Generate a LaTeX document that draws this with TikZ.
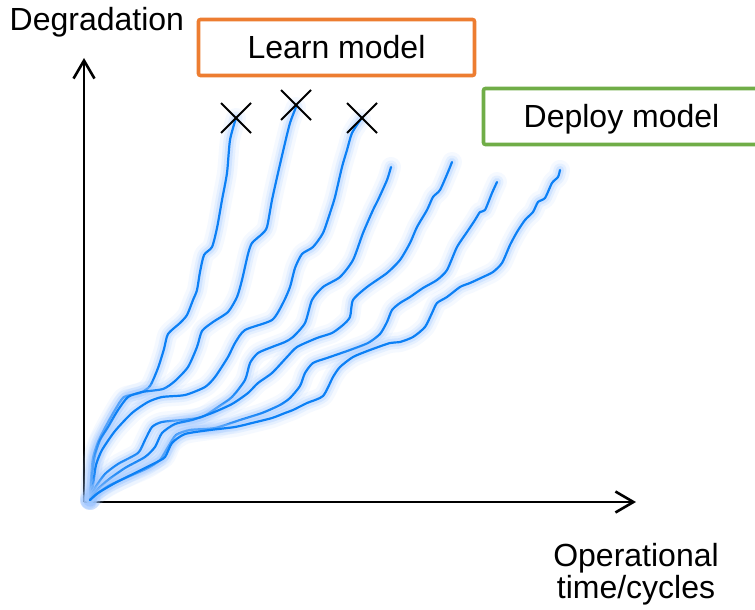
\documentclass[tikz,border=0pt]{standalone}
\usepackage{fontspec}
\setmainfont{Liberation Sans}
\usetikzlibrary{arrows.meta}
\definecolor{curveblue}{RGB}{12,128,245}
\definecolor{glowblue}{RGB}{160,200,255}
\definecolor{learnorange}{RGB}{237,125,49}
\definecolor{deploygreen}{RGB}{112,173,71}
\newcommand\degcurve[1]{%
  \draw[glowouter] plot[smooth,tension=0.4] coordinates {#1};
  \draw[glowwide] plot[smooth,tension=0.4] coordinates {#1};
  \draw[glowmid] plot[smooth,tension=0.4] coordinates {#1};
  \draw[curveline] plot[smooth,tension=0.4] coordinates {#1};}
\begin{document}
\begin{tikzpicture}[x=1pt,y=-1pt,
  labeltext/.style={font=\fontsize{32}{32}\selectfont, inner sep=0pt},
  modelbox/.style={labeltext, line width=3.6pt, rounded corners=2pt,
    minimum width=276pt, minimum height=56pt, text height=22.5pt, text depth=0pt},
  axis/.style={line width=2.8pt, -{Straight Barb[length=18pt,width=21pt,line width=2.6pt]}},
  crossmark/.style={line width=2.1pt, black},
  glowouter/.style={draw=glowblue, line width=20pt, opacity=0.1, line join=round, line cap=round},
  glowwide/.style={draw=glowblue, line width=13pt, opacity=0.18, line join=round, line cap=round},
  glowmid/.style={draw=glowblue, line width=8pt, opacity=0.3, line join=round, line cap=round},
  curveline/.style={draw=curveblue, line width=2.2pt, line join=round, line cap=round}]
\useasboundingbox (0,0) rectangle (755,610);
\clip (0,0) rectangle (755,610);
\fill[white] (0,0) rectangle (755,610);

% axes
\coordinate (O) at (84,502);
\coordinate (ytip) at (84,58);
\coordinate (xtip) at (636,502);
\draw[axis] (O) -- (ytip);
\draw[axis] (O) -- (xtip);

% degradation curves
\fill[glowblue, opacity=0.4] (89,501) circle (8pt);
\degcurve{(90,500) (91,480) (93,458) (98,442) (106,426) (115,410) (124,397) (140,393) (150,386) (158,368) (164,349) (168,334) (180,323) (187,315) (193,300) (197,290) (200,272) (204,255) (212,247) (217,228) (222,200) (227,173) (230,140) (236,118)}
\degcurve{(90,500) (92,475) (95,455) (100,440) (108,427) (118,410) (128,397) (142,392) (163,389) (175,381) (188,367) (197,347) (202,331) (213,322) (228,312) (237,297) (242,280) (248,254) (252,243) (262,234) (267,227) (272,200) (278,173) (285,143) (290,123) (296,107)}
\degcurve{(90,500) (93,485) (96,465) (102,450) (115,431) (132,413) (148,402) (162,397) (185,395) (205,387) (215,377) (228,357) (235,343) (245,330) (272,320) (283,303) (290,287) (295,268) (302,254) (313,247) (323,233) (330,213) (335,197) (342,167) (347,150) (352,133) (361,119)}
\degcurve{(90,500) (95,488) (105,474) (118,464) (138,453) (145,440) (152,427) (162,422) (182,420) (202,417) (218,407) (232,397) (245,380) (250,363) (258,353) (272,347) (285,342) (293,337) (305,323) (312,300) (323,287) (340,277) (353,260) (363,233) (373,210) (378,200) (387,180) (391,167)}
\degcurve{(90,500) (97,490) (108,480) (125,468) (145,457) (155,447) (162,433) (175,424) (192,420) (212,413) (232,404) (248,393) (258,383) (272,373) (287,357) (297,347) (317,338) (332,333) (343,325) (350,317) (353,300) (367,287) (387,273) (400,260) (410,243) (417,227) (427,210) (433,197) (440,190) (448,172) (452,162)}
\degcurve{(90,500) (98,493) (110,485) (130,476) (148,468) (160,460) (168,447) (176,435) (190,430) (215,428) (240,420) (262,413) (280,405) (290,398) (300,386) (305,373) (313,363) (327,358) (350,350) (368,343) (380,334) (387,322) (392,310) (400,303) (410,297) (423,288) (437,280) (447,270) (457,247) (467,232) (475,220) (480,212) (485,210) (492,193) (497,182)}
\degcurve{(90,500) (98,493) (115,483) (135,473) (155,463) (165,457) (172,443) (185,434) (210,430) (235,427) (252,423) (272,418) (285,413) (293,410) (307,403) (323,396) (333,377) (340,367) (353,357) (370,350) (390,343) (400,342) (413,337) (425,327) (432,313) (437,303) (447,297) (460,287) (470,283) (483,277) (493,272) (502,263) (510,245) (517,232) (525,220) (533,212) (538,202) (545,198) (552,183) (558,177) (560,170)}

% failure crosses
\coordinate (fail1) at (236,118);
\coordinate (fail2) at (296,105);
\coordinate (fail3) at (362,118);
\foreach \f in {fail1,fail2,fail3}{
  \draw[crossmark] ([shift={(-15,-15)}]\f) -- ([shift={(15,15)}]\f);
  \draw[crossmark] ([shift={(-15,15)}]\f) -- ([shift={(15,-15)}]\f);
}

% labels
\node[labeltext, anchor=base west] (ylabel) at (9.5,31) {Degradation};
\node[labeltext, align=center] (xlabel) at (636,574) {Operational\\time/cycles};
\node[modelbox, draw=learnorange] (learn) at (336.5,47.5) {Learn model};
\node[modelbox, draw=deploygreen] (deploy) at (621.5,116.5) {Deploy model};
\end{tikzpicture}
\end{document}
